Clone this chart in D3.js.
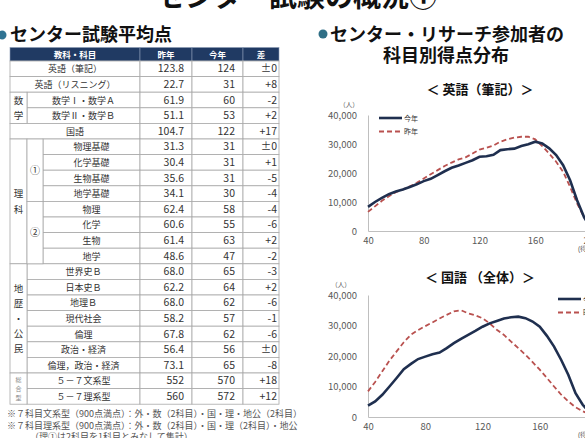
<!DOCTYPE html>
<html>
<head>
<meta charset="utf-8">
<script src="https://cdn.jsdelivr.net/npm/d3@7"></script>
<style>
body { margin: 0; background: #fff; overflow: hidden; }
svg { display: block; font-family: "Noto Sans CJK JP", "Noto Sans", sans-serif; }
</style>
</head>
<body>
<div id="page"></div>
<script>
'use strict';

// ---- table data ----
var headers = ['教科・科目', '昨年', '今年', '差'];
var subjects = ['英語（筆記）', '英語（リスニング）', '数学Ⅰ・数学Ａ', '数学Ⅱ・数学Ｂ', '国語',
    '物理基礎', '化学基礎', '生物基礎', '地学基礎', '物理', '化学', '生物', '地学',
    '世界史Ｂ', '日本史Ｂ', '地理Ｂ', '現代社会', '倫理', '政治・経済', '倫理，政治・経済',
    '５－７文系型', '５－７理系型'];
var lastYear = [123.8, 22.7, 61.9, 51.1, 104.7, 31.3, 30.4, 35.6, 34.1, 62.4, 60.6, 61.4, 48.6,
    68.0, 62.2, 68.0, 58.2, 67.8, 56.4, 73.1, 552, 560];
var thisYear = [124, 31, 60, 53, 122, 31, 31, 31, 30, 58, 55, 63, 47, 65, 64, 62, 57, 62, 56, 65, 570, 572];
var diffs = [0, 8, -2, 2, 17, 0, 1, -5, -4, -4, -6, 2, -2, -3, 2, -6, -1, -6, 0, -8, 18, 12];
// nesting depth of each subject row (0 = no group, 1 = group, 2 = group + sub group)
var depth = [0, 0, 1, 1, 0, 2, 2, 2, 2, 2, 2, 2, 2, 1, 1, 1, 1, 1, 1, 1, 1, 1];
var groups = [
    {label: '数学', from: 2, to: 3},
    {label: '理科', from: 5, to: 12},
    {label: '地歴・公民', from: 13, to: 19},
    {label: '総合型', from: 20, to: 21, small: true}
];
var subGroups = [
    {label: '①', from: 5, to: 8},
    {label: '②', from: 9, to: 12}
];
var notes = [
    '※７科目文系型（900点満点）：外・数（2科目）・国・理・地公（2科目）',
    '※７科目理系型（900点満点）：外・数（2科目）・国・理（2科目）・地公',
    '（理①は2科目を1科目とみなして集計）'
];

// ---- distribution data ----
var scores = [40, 45, 50, 55, 60, 65, 70, 75, 80, 85, 90, 95, 100, 105, 110, 115, 120,
    125, 130, 135, 140, 145, 150, 155, 160, 165, 170, 175, 180, 185, 190, 195, 200];
var eigoThis = [8300, 10000, 11400, 12700, 13600, 14300, 15200, 16100, 17200, 18000, 19300, 20600,
    21800, 22600, 23500, 24400, 25600, 25800, 26300, 27900, 28200, 28400, 29300, 29900, 30800,
    30200, 28500, 26200, 22700, 17500, 10600, 4800, 800];
var eigoLast = [6600, 8500, 10400, 12000, 13400, 14300, 15400, 16600, 18100, 19600, 21000, 22400,
    23600, 24700, 25400, 26700, 28100, 28700, 29500, 30800, 31600, 32200, 32500, 32500, 31600,
    29300, 26700, 23900, 20400, 15200, 9500, 4800, 1000];
var kokugoThis = [3700, 5100, 7300, 10000, 12800, 15700, 17400, 19000, 19800, 20600, 21100, 22600,
    24200, 25600, 26900, 28200, 29600, 30700, 31500, 32300, 32700, 32900, 32400, 31300, 29600,
    26600, 23100, 18700, 13800, 7800, 4000, 1500, 300];
var kokugoLast = [8400, 11500, 15000, 18500, 21500, 24500, 27000, 28500, 29800, 31000, 32300, 33500,
    34600, 35000, 34000, 33300, 32400, 30700, 28600, 26900, 24700, 22600, 20400, 18000, 15500,
    12800, 10000, 7300, 5100, 3200, 1900, 800, 300];
var seriesNames = ['今年', '昨年'];
var yTicks = [0, 10000, 20000, 30000, 40000];
var xTicks = [40, 80, 120, 160, 200];

var width = 585;
var height = 438;
var navy = '#203a63';
var gridGrey = '#a9a9a9';
var textDark = '#333';

var svg = d3.select('#page').append('svg')
    .attr('width', width)
    .attr('height', height);

// ---- headings ----
svg.append('text')
    .attr('x', 297).attr('y', 7)
    .attr('text-anchor', 'middle')
    .attr('font-size', 28).attr('font-weight', 'bold')
    .attr('fill', '#111')
    .text('センター試験の概況①');

svg.append('circle').attr('cx', 2).attr('cy', 35).attr('r', 4.5).attr('fill', '#2f7393');
svg.append('text')
    .attr('x', 10).attr('y', 41)
    .attr('font-size', 18).attr('font-weight', 'bold').attr('fill', '#111')
    .text('センター試験平均点');

svg.append('circle').attr('cx', 323).attr('cy', 34).attr('r', 4.5).attr('fill', '#2f6f86');
svg.append('text')
    .attr('x', 330).attr('y', 41)
    .attr('font-size', 18).attr('font-weight', 'bold').attr('fill', '#111')
    .text('センター・リサーチ参加者の');
svg.append('text')
    .attr('x', 446).attr('y', 62)
    .attr('text-anchor', 'middle')
    .attr('font-size', 18).attr('font-weight', 'bold').attr('fill', '#111')
    .text('科目別得点分布');

// ---- table ----
var colX = [10, 27, 43, 140, 192, 243, 279];
var headTop = 47.5;
var rowH = 15.6;
var rowY = d3.scaleBand()
    .domain(d3.range(subjects.length))
    .range([headTop + 13.5, headTop + 13.5 + subjects.length * rowH]);

var table = svg.append('g');

var headCols = [[0, 3], [3, 4], [4, 5], [5, 6]];
table.selectAll('rect.head')
    .data(headCols)
    .enter()
    .append('rect')
        .attr('class', 'head')
        .attr('x', function(d) { return colX[d[0]]; })
        .attr('y', headTop)
        .attr('width', function(d) { return colX[d[1]] - colX[d[0]]; })
        .attr('height', rowY.range()[0] - headTop)
        .attr('fill', navy)
        .attr('stroke', '#8a9bb5')
        .attr('stroke-width', 0.6);
table.selectAll('text.head')
    .data(headCols)
    .enter()
    .append('text')
        .attr('class', 'head')
        .attr('x', function(d) { return (colX[d[0]] + colX[d[1]]) / 2; })
        .attr('y', headTop + 10)
        .attr('text-anchor', 'middle')
        .attr('font-size', 8.5)
        .attr('font-weight', 'bold')
        .attr('fill', '#fff')
        .text(function(d, i) { return headers[i]; });

var rows = subjects.map(function(s, i) {
    return {i: i, name: s, last: lastYear[i], cur: thisYear[i], diff: diffs[i], depth: depth[i]};
});

function cell(x0, x1, y0, y1) {
    table.append('rect')
        .attr('x', x0).attr('y', y0)
        .attr('width', x1 - x0).attr('height', y1 - y0)
        .attr('fill', '#fff')
        .attr('stroke', gridGrey)
        .attr('stroke-width', 0.8);
}

rows.forEach(function(d) {
    var y0 = rowY(d.i);
    var y1 = y0 + rowY.bandwidth();
    cell(colX[d.depth], colX[3], y0, y1);
    cell(colX[3], colX[4], y0, y1);
    cell(colX[4], colX[5], y0, y1);
    cell(colX[5], colX[6], y0, y1);
});

groups.forEach(function(g) {
    cell(colX[0], colX[1], rowY(g.from), rowY(g.to) + rowY.bandwidth());
});
subGroups.forEach(function(g) {
    cell(colX[1], colX[2], rowY(g.from), rowY(g.to) + rowY.bandwidth());
});

function fmtLast(v) { return v >= 500 ? String(v) : v.toFixed(1); }
function fmtDiff(v) { return v === 0 ? '±0' : (v > 0 ? '+' + v : String(v)); }

var rowText = table.selectAll('g.row')
    .data(rows)
    .enter()
    .append('g')
        .attr('class', 'row')
        .attr('transform', function(d) { return 'translate(0,' + (rowY(d.i) + rowY.bandwidth() / 2 + 3.6) + ')'; });

rowText.append('text')
    .attr('x', function(d) { return (colX[d.depth] + colX[3]) / 2; })
    .attr('text-anchor', 'middle')
    .attr('font-size', 9)
    .attr('fill', textDark)
    .text(function(d) { return d.name; });
rowText.append('text')
    .attr('x', colX[4] - 8)
    .attr('text-anchor', 'end')
    .attr('font-size', 10.5)
    .attr('fill', textDark)
    .text(function(d) { return fmtLast(d.last); });
rowText.append('text')
    .attr('x', colX[5] - 8)
    .attr('text-anchor', 'end')
    .attr('font-size', 10.5)
    .attr('fill', textDark)
    .text(function(d) { return d.cur; });
rowText.append('text')
    .attr('x', colX[6] - 2)
    .attr('text-anchor', 'end')
    .attr('font-size', 10.5)
    .attr('fill', textDark)
    .text(function(d) { return fmtDiff(d.diff); });

function verticalLabel(g, x0, x1, fontSize, step, color) {
    var chars = g.label.split('');
    var mid = (rowY(g.from) + rowY(g.to) + rowY.bandwidth()) / 2;
    table.selectAll(null)
        .data(chars)
        .enter()
        .append('text')
            .attr('x', (x0 + x1) / 2)
            .attr('y', function(c, k) { return mid + (k - (chars.length - 1) / 2) * step + fontSize * 0.38; })
            .attr('text-anchor', 'middle')
            .attr('font-size', fontSize)
            .attr('fill', color)
            .text(function(c) { return c; });
}

groups.forEach(function(g) {
    if (g.small) {
        verticalLabel(g, colX[0], colX[1], 6, 9, '#888');
    } else {
        verticalLabel(g, colX[0], colX[1], 9.5, g.label.length > 2 ? 15.2 : 15.5, textDark);
    }
});
subGroups.forEach(function(g) {
    verticalLabel(g, colX[1], colX[2], 10, 0, textDark);
});

svg.selectAll('text.note')
    .data(notes)
    .enter()
    .append('text')
        .attr('class', 'note')
        .attr('x', function(d, i) { return i === 2 ? 30 : 7; })
        .attr('y', function(d, i) { return 417 + i * 11.6; })
        .attr('font-size', 9)
        .attr('fill', '#555')
        .text(function(d) { return d; });

// ---- distribution charts ----
function drawChart(opt) {
    var x = d3.scaleLinear().domain([40, 200]).range([368, opt.xEnd]);
    var y = d3.scaleLinear().domain([0, 40000]).range([opt.bottom, opt.top]);
    var g = svg.append('g');

    g.append('text')
        .attr('x', 480).attr('y', opt.titleY)
        .attr('text-anchor', 'middle')
        .attr('font-size', 13).attr('font-weight', 'bold').attr('fill', '#111')
        .text(opt.title);

    g.append('text')
        .attr('x', opt.unitX).attr('y', opt.top - 8.5)
        .attr('text-anchor', 'middle')
        .attr('font-size', 6.5).attr('fill', '#595959')
        .text('（人）');

    var yAxis = g.append('g')
        .attr('transform', 'translate(' + x(40) + ',0)')
        .call(d3.axisLeft(y).tickValues(yTicks).tickFormat(d3.format(',')).tickSize(0).tickPadding(11));
    var xAxis = g.append('g')
        .attr('transform', 'translate(0,' + y(0) + ')')
        .call(d3.axisBottom(x).tickValues(xTicks).tickSize(0).tickPadding(6));
    [yAxis, xAxis].forEach(function(a) {
        a.select('.domain').attr('stroke', '#bfbfbf').attr('stroke-width', 1);
        a.selectAll('text')
            .attr('fill', '#595959')
            .attr('font-size', 9.5)
            .attr('font-family', '"Noto Sans CJK JP", sans-serif');
    });
    xAxis.append('text')
        .attr('x', 578).attr('y', 20)
        .attr('text-anchor', 'start')
        .attr('font-size', 6.5).attr('fill', '#595959')
        .text('(得点)');

    var line = d3.line()
        .x(function(d) { return x(d.score); })
        .y(function(d) { return y(d.value); });

    function pts(values) {
        return scores.map(function(s, i) { return {score: s, value: values[i]}; });
    }

    g.append('path')
        .datum(pts(opt.last))
        .attr('d', line)
        .attr('fill', 'none')
        .attr('stroke', '#b9514f')
        .attr('stroke-width', 1.8)
        .attr('stroke-dasharray', '5,3');
    g.append('path')
        .datum(pts(opt.cur))
        .attr('d', line)
        .attr('fill', 'none')
        .attr('stroke', '#1f2f4f')
        .attr('stroke-width', 2.6);

    var legend = g.append('g')
        .attr('transform', 'translate(' + opt.legendX + ',' + opt.legendY + ')');
    var items = legend.selectAll('g')
        .data(seriesNames)
        .enter()
        .append('g')
            .attr('transform', function(d, i) { return 'translate(0,' + i * 13.5 + ')'; });
    items.append('line')
        .attr('x1', 0).attr('x2', 23)
        .attr('stroke', function(d, i) { return i === 0 ? '#1f2f4f' : '#b9514f'; })
        .attr('stroke-width', function(d, i) { return i === 0 ? 2.6 : 1.8; })
        .attr('stroke-dasharray', function(d, i) { return i === 0 ? null : '5,3'; });
    items.append('text')
        .attr('x', 25).attr('y', 2.5)
        .attr('font-size', 7).attr('fill', textDark)
        .text(function(d) { return d; });
}

drawChart({
    title: '＜ 英語（筆記）＞',
    titleY: 94,
    top: 115, bottom: 231, xEnd: 591,
    unitX: 349,
    cur: eigoThis, last: eigoLast,
    legendX: 379, legendY: 118
});

drawChart({
    title: '＜ 国語 （全体）＞',
    titleY: 282,
    top: 295, bottom: 417, xEnd: 597,
    unitX: 341,
    cur: kokugoThis, last: kokugoLast,
    legendX: 558, legendY: 299
});
</script>
</body>
</html>
